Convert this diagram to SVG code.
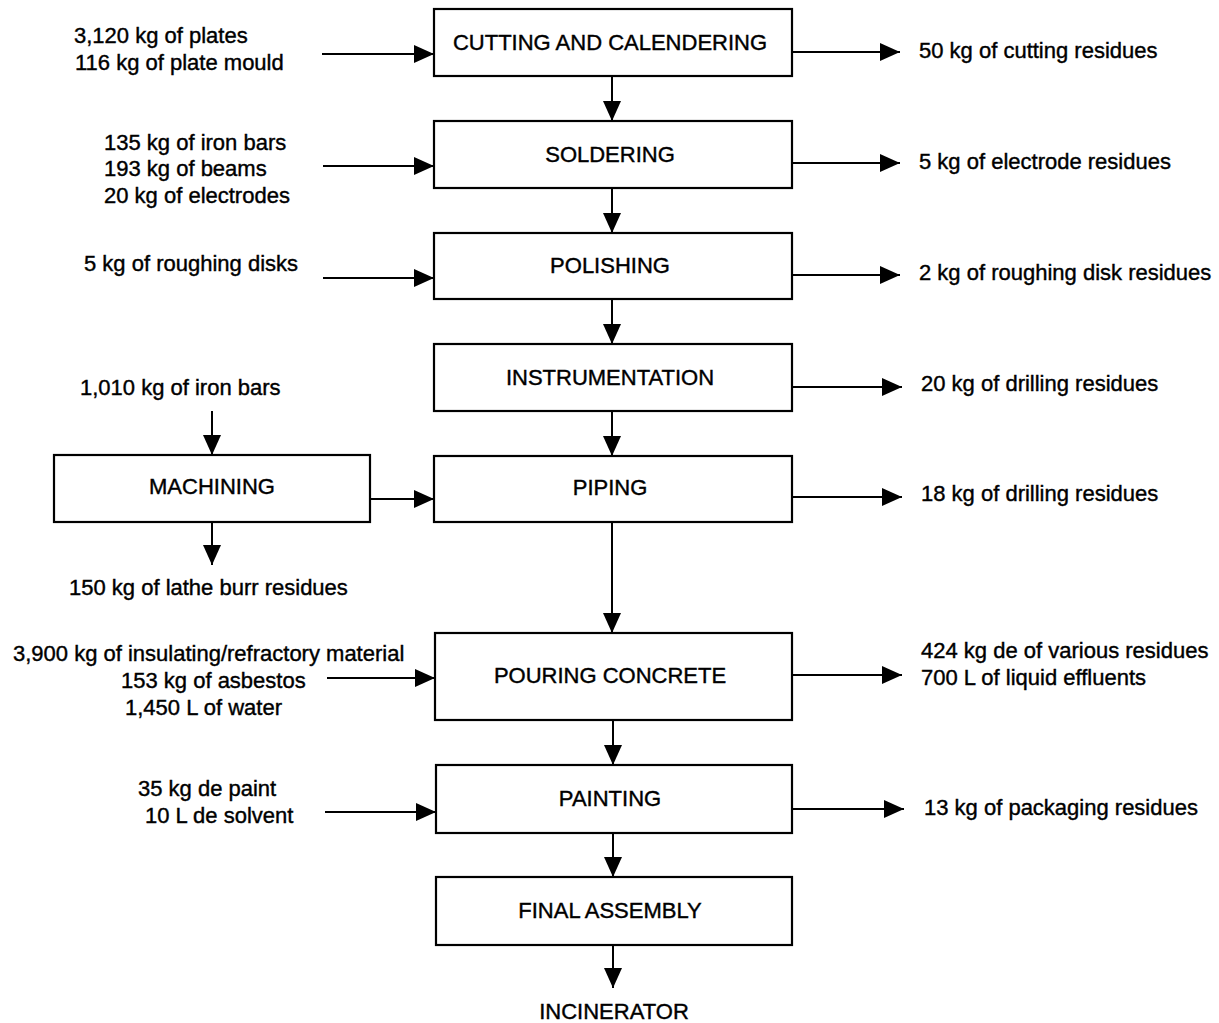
<svg xmlns="http://www.w3.org/2000/svg" width="1219" height="1023" viewBox="0 0 1219 1023">
<defs>
<marker id="ah" markerUnits="userSpaceOnUse" markerWidth="20" markerHeight="18" refX="20" refY="9" orient="auto">
<path d="M0,0 L20,9 L0,18 z" fill="#000"/>
</marker>
<style>
.box{fill:#fff;stroke:#000;stroke-width:2.2}
.lbl{font-family:"Liberation Sans",Arial,sans-serif;font-size:22px;fill:#000;stroke:#000;stroke-width:0.4}
.c{text-anchor:middle}
.ln{stroke:#000;stroke-width:2;fill:none;marker-end:url(#ah)}
</style>
</defs>
<rect width="1219" height="1023" fill="#fff"/>
<g id="connectors">
<line class="ln" x1="612" y1="76" x2="612" y2="121"/>
<line class="ln" x1="612" y1="188" x2="612" y2="233"/>
<line class="ln" x1="612" y1="299" x2="612" y2="344"/>
<line class="ln" x1="612" y1="411" x2="612" y2="456"/>
<line class="ln" x1="612" y1="522" x2="612" y2="633"/>
<line class="ln" x1="613" y1="720" x2="613" y2="765"/>
<line class="ln" x1="613" y1="833" x2="613" y2="877"/>
<line class="ln" x1="613" y1="945" x2="613" y2="988"/>
<line class="ln" x1="322" y1="54" x2="434" y2="54"/>
<line class="ln" x1="323" y1="166" x2="434" y2="166"/>
<line class="ln" x1="323" y1="278" x2="434" y2="278"/>
<line class="ln" x1="212" y1="411" x2="212" y2="455"/>
<line class="ln" x1="370" y1="499" x2="434" y2="499"/>
<line class="ln" x1="212" y1="522" x2="212" y2="565"/>
<line class="ln" x1="327" y1="678" x2="435" y2="678"/>
<line class="ln" x1="325" y1="812" x2="436" y2="812"/>
<line class="ln" x1="792" y1="52" x2="900" y2="52"/>
<line class="ln" x1="792" y1="163" x2="900" y2="163"/>
<line class="ln" x1="792" y1="275" x2="900" y2="275"/>
<line class="ln" x1="792" y1="387" x2="902" y2="387"/>
<line class="ln" x1="792" y1="497" x2="902" y2="497"/>
<line class="ln" x1="792" y1="675" x2="902" y2="675"/>
<line class="ln" x1="792" y1="809" x2="904" y2="809"/>
</g>
<g id="cutting"><rect class="box" x="434" y="9" width="358" height="67"/><text class="lbl c" x="610" y="50">CUTTING AND CALENDERING</text></g>
<g id="soldering"><rect class="box" x="434" y="121" width="358" height="67"/><text class="lbl c" x="610" y="162">SOLDERING</text></g>
<g id="polishing"><rect class="box" x="434" y="233" width="358" height="66"/><text class="lbl c" x="610" y="273">POLISHING</text></g>
<g id="instrumentation"><rect class="box" x="434" y="344" width="358" height="67"/><text class="lbl c" x="610" y="385">INSTRUMENTATION</text></g>
<g id="piping"><rect class="box" x="434" y="456" width="358" height="66"/><text class="lbl c" x="610" y="495">PIPING</text></g>
<g id="machining"><rect class="box" x="54" y="455" width="316" height="67"/><text class="lbl c" x="212" y="494">MACHINING</text></g>
<g id="pouring"><rect class="box" x="435" y="633" width="357" height="87"/><text class="lbl c" x="610" y="683">POURING CONCRETE</text></g>
<g id="painting"><rect class="box" x="436" y="765" width="356" height="68"/><text class="lbl c" x="610" y="806">PAINTING</text></g>
<g id="final"><rect class="box" x="436" y="877" width="356" height="68"/><text class="lbl c" x="610" y="918">FINAL ASSEMBLY</text></g>
<g id="incinerator"><text class="lbl c" x="614" y="1019">INCINERATOR</text></g>
<g id="inputs">
<text class="lbl" x="74" y="43">3,120 kg of plates</text>
<text class="lbl" x="75" y="70">116 kg of plate mould</text>
<text class="lbl" x="104" y="150">135 kg of iron bars</text>
<text class="lbl" x="104" y="176">193 kg of beams</text>
<text class="lbl" x="104" y="203">20 kg of electrodes</text>
<text class="lbl" x="84" y="271">5 kg of roughing disks</text>
<text class="lbl" x="80" y="395">1,010 kg of iron bars</text>
<text class="lbl" x="69" y="595">150 kg of lathe burr residues</text>
<text class="lbl" x="13" y="661">3,900 kg of insulating/refractory material</text>
<text class="lbl" x="121" y="688">153 kg of asbestos</text>
<text class="lbl" x="125" y="715">1,450 L of water</text>
<text class="lbl" x="138" y="796">35 kg de paint</text>
<text class="lbl" x="145" y="823">10 L de solvent</text>
</g>
<g id="outputs">
<text class="lbl" x="919" y="58">50 kg of cutting residues</text>
<text class="lbl" x="919" y="169">5 kg of electrode residues</text>
<text class="lbl" x="919" y="280">2 kg of roughing disk residues</text>
<text class="lbl" x="921" y="391">20 kg of drilling residues</text>
<text class="lbl" x="921" y="501">18 kg of drilling residues</text>
<text class="lbl" x="921" y="658">424 kg de of various residues</text>
<text class="lbl" x="921" y="685">700 L of liquid effluents</text>
<text class="lbl" x="924" y="815">13 kg of packaging residues</text>
</g>
</svg>
